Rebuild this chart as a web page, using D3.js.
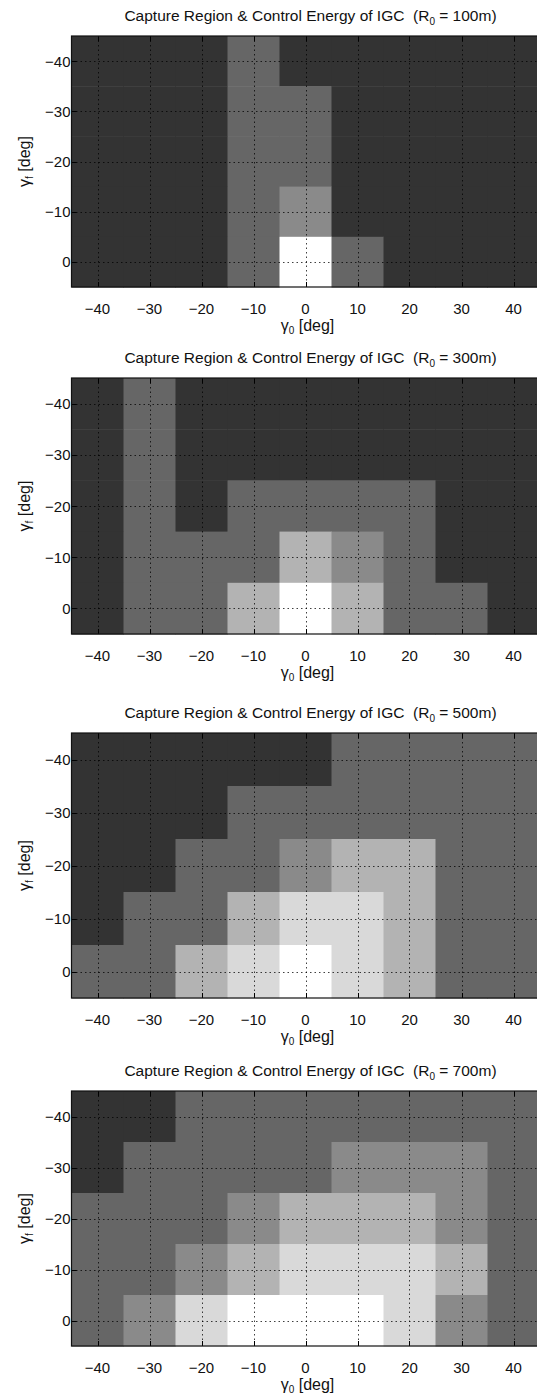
<!DOCTYPE html>
<html>
<head>
<meta charset="utf-8">
<script src="https://cdn.jsdelivr.net/npm/d3@7"></script>
<style>
  body { margin: 0; background: #fff; }
  svg text { font-family: "Liberation Sans", Arial, sans-serif; fill: #111; }
</style>
</head>
<body>
<svg id="chart"></svg>
<script>
// axis values
var gamma0 = [-40, -30, -20, -10, 0, 10, 20, 30, 40];   // columns
var gammaF = [-40, -30, -20, -10, 0];                   // rows, top to bottom
var ranges = [100, 300, 500, 700];                      // R0 of each panel [m]

// control energy level of each cell (0 = darkest, 5 = white), rows follow gammaF
var grid100 = [
  [0, 0, 0, 1, 0, 0, 0, 0, 0],
  [0, 0, 0, 1, 1, 0, 0, 0, 0],
  [0, 0, 0, 1, 1, 0, 0, 0, 0],
  [0, 0, 0, 1, 2, 0, 0, 0, 0],
  [0, 0, 0, 1, 5, 1, 0, 0, 0]
];
var grid300 = [
  [0, 1, 0, 0, 0, 0, 0, 0, 0],
  [0, 1, 0, 0, 0, 0, 0, 0, 0],
  [0, 1, 0, 1, 1, 1, 1, 0, 0],
  [0, 1, 1, 1, 3, 2, 1, 0, 0],
  [0, 1, 1, 3, 5, 3, 1, 1, 0]
];
var grid500 = [
  [0, 0, 0, 0, 0, 1, 1, 1, 1],
  [0, 0, 0, 1, 1, 1, 1, 1, 1],
  [0, 0, 1, 1, 2, 3, 3, 1, 1],
  [0, 1, 1, 3, 4, 4, 3, 1, 1],
  [1, 1, 3, 4, 5, 4, 3, 1, 1]
];
var grid700 = [
  [0, 0, 1, 1, 1, 1, 1, 1, 1],
  [0, 1, 1, 1, 1, 2, 2, 2, 1],
  [1, 1, 1, 2, 3, 3, 3, 2, 1],
  [1, 1, 2, 3, 4, 4, 4, 3, 1],
  [1, 2, 4, 5, 5, 5, 4, 2, 1]
];
var grids = [grid100, grid300, grid500, grid700];

var grayLevels = ["#333333", "#666666", "#8a8a8a", "#b3b3b3", "#d9d9d9", "#ffffff"];

var width = 537, height = 1394;
var left = 71.5, right = 539.5;
var panelTops = [36, 378, 733, 1091];
var panelBottoms = [287, 634, 998, 1346];

var svg = d3.select("#chart").attr("width", width).attr("height", height);

var color = d3.scaleOrdinal().domain(d3.range(grayLevels.length)).range(grayLevels);
var fmt = d3.format("");

ranges.forEach(function (r0, p) {
  var top = panelTops[p], bottom = panelBottoms[p];
  var x = d3.scaleLinear().domain([-45, 45]).range([left, right]);
  var y = d3.scaleLinear().domain([-45, 5]).range([top, bottom]);
  var g = svg.append("g");

  var cells = [];
  grids[p].forEach(function (row, i) {
    row.forEach(function (v, j) {
      cells.push({ g0: gamma0[j], gf: gammaF[i], v: v });
    });
  });

  g.selectAll("rect.cell")
    .data(cells)
    .enter()
    .append("rect")
    .attr("class", "cell")
    .attr("x", d => x(d.g0 - 5))
    .attr("y", d => y(d.gf - 5))
    .attr("width", d => x(d.g0 + 5) - x(d.g0 - 5) + 0.5)
    .attr("height", d => y(d.gf + 5) - y(d.gf - 5) + 0.5)
    .attr("fill", d => color(d.v));

  // dotted grid
  g.selectAll("line.vgrid")
    .data(gamma0)
    .enter()
    .append("line")
    .attr("x1", d => Math.round(x(d)) + 0.5)
    .attr("x2", d => Math.round(x(d)) + 0.5)
    .attr("y1", top)
    .attr("y2", bottom)
    .attr("stroke", "#000")
    .attr("stroke-opacity", 0.75)
    .attr("stroke-dasharray", "1.5,3");

  g.selectAll("line.hgrid")
    .data(gammaF)
    .enter()
    .append("line")
    .attr("x1", left)
    .attr("x2", right)
    .attr("y1", d => Math.round(y(d)) + 0.5)
    .attr("y2", d => Math.round(y(d)) + 0.5)
    .attr("stroke", "#000")
    .attr("stroke-opacity", 0.75)
    .attr("stroke-dasharray", "1.5,3");

  // inner tick marks
  g.selectAll("line.xtick")
    .data(gamma0)
    .enter()
    .append("line")
    .attr("x1", d => Math.round(x(d)) + 0.5)
    .attr("x2", d => Math.round(x(d)) + 0.5)
    .attr("y1", bottom)
    .attr("y2", bottom - 5)
    .attr("stroke", "#000");
  g.selectAll("line.xtickTop")
    .data(gamma0)
    .enter()
    .append("line")
    .attr("x1", d => Math.round(x(d)) + 0.5)
    .attr("x2", d => Math.round(x(d)) + 0.5)
    .attr("y1", top)
    .attr("y2", top + 5)
    .attr("stroke", "#000");
  g.selectAll("line.ytick")
    .data(gammaF)
    .enter()
    .append("line")
    .attr("x1", left)
    .attr("x2", left + 5)
    .attr("y1", d => Math.round(y(d)) + 0.5)
    .attr("y2", d => Math.round(y(d)) + 0.5)
    .attr("stroke", "#000");

  // box
  g.append("rect")
    .attr("x", left)
    .attr("y", top)
    .attr("width", right - left)
    .attr("height", bottom - top)
    .attr("fill", "none")
    .attr("stroke", "#111")
    .attr("stroke-width", 1.2);

  // tick labels
  g.selectAll("text.xlab")
    .data(gamma0)
    .enter()
    .append("text")
    .attr("x", d => x(d))
    .attr("y", bottom + 27)
    .attr("text-anchor", "middle")
    .style("font-size", "15px")
    .text(d => fmt(d));

  g.selectAll("text.ylab")
    .data(gammaF)
    .enter()
    .append("text")
    .attr("x", left - 1)
    .attr("y", d => y(d) + 5.5)
    .attr("text-anchor", "end")
    .style("font-size", "15px")
    .text(d => fmt(d));

  // title
  var title = g.append("text")
    .attr("x", (left + right) / 2 + 5)
    .attr("y", top - 15)
    .attr("text-anchor", "middle")
    .attr("xml:space", "preserve")
    .style("white-space", "pre")
    .style("font-size", "15.5px");
  title.append("tspan").text("Capture Region & Control Energy of IGC  (R");
  title.append("tspan").attr("dy", 4).style("font-size", "10px").text("0");
  title.append("tspan").attr("dy", -4).text(" = " + r0 + "m)");

  // x label
  var xl = g.append("text")
    .attr("x", x(0) + 2)
    .attr("y", bottom + 44)
    .attr("text-anchor", "middle")
    .style("font-size", "16px");
  xl.append("tspan").text("γ");
  xl.append("tspan").attr("dy", 3).style("font-size", "10px").text("0");
  xl.append("tspan").attr("dy", -3).text(" [deg]");

  // y label
  var yl = g.append("text")
    .attr("transform", "translate(30," + ((top + bottom) / 2) + ") rotate(-90)")
    .attr("text-anchor", "middle")
    .style("font-size", "16px");
  yl.append("tspan").text("γ");
  yl.append("tspan").attr("dy", 3).style("font-size", "10px").text("f");
  yl.append("tspan").attr("dy", -3).text(" [deg]");
});
</script>
</body>
</html>
